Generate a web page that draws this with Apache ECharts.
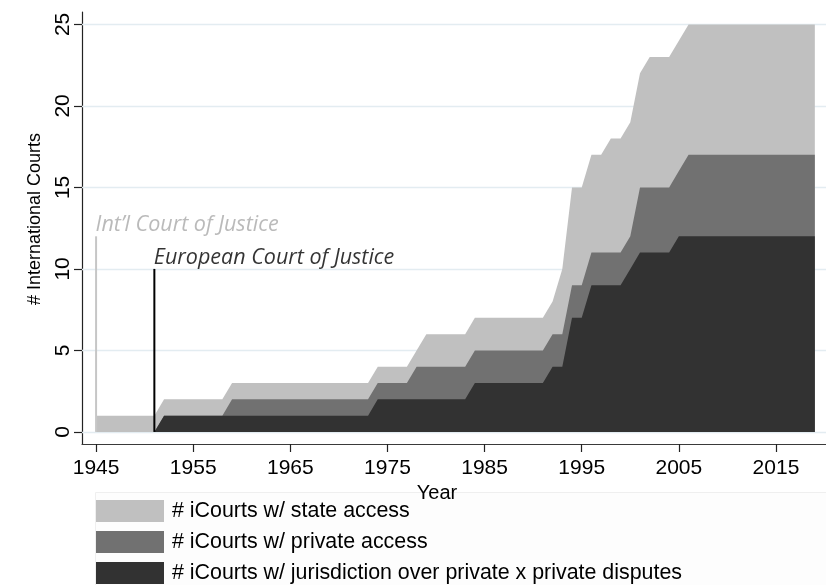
<!DOCTYPE html>
<html><head><meta charset="utf-8">
<script src="https://cdn.jsdelivr.net/npm/echarts@6/dist/echarts.min.js"></script>
<style>html,body{margin:0;padding:0;background:#fff}#c{width:826px;height:585px}</style>
</head><body><div id="c"></div>
<script>
const years = [1945,1946,1947,1948,1949,1950,1951,1952,1953,1954,1955,1956,1957,1958,1959,1960,1961,1962,1963,1964,1965,1966,1967,1968,1969,1970,1971,1972,1973,1974,1975,1976,1977,1978,1979,1980,1981,1982,1983,1984,1985,1986,1987,1988,1989,1990,1991,1992,1993,1994,1995,1996,1997,1998,1999,2000,2001,2002,2003,2004,2005,2006,2007,2008,2009,2010,2011,2012,2013,2014,2015,2016,2017,2018,2019];
const stateAccess = [1,1,1,1,1,1,1, 2,2,2,2,2,2,2, 3,3,3,3,3,3,3,3,3,3,3,3,3,3,3, 4,4,4,4, 5, 6,6,6,6,6, 7,7,7,7,7,7,7,7, 8, 10, 15,15, 17,17, 18,18, 19, 22, 23,23,23, 24, 25,25,25,25,25,25,25,25,25,25,25,25,25,25];
const privateAccess = [null,null,null,null,null,null, 0, 1,1,1,1,1,1,1, 2,2,2,2,2,2,2,2,2,2,2,2,2,2,2, 3,3,3,3, 4,4,4,4,4,4, 5,5,5,5,5,5,5,5, 6,6, 9,9, 11,11,11,11, 12, 15,15,15,15, 16, 17,17,17,17,17,17,17,17,17,17,17,17,17,17];
const privateDisputes = [null,null,null,null,null,null, 0, 1,1,1,1,1,1,1,1,1,1,1,1,1,1,1,1,1,1,1,1,1,1, 2,2,2,2,2,2,2,2,2,2, 3,3,3,3,3,3,3,3, 4,4, 7,7, 9,9,9,9, 10, 11,11,11,11, 12,12,12,12,12,12,12,12,12,12,12,12,12,12,12];
const seriesNames = ['# iCourts w/ state access', '# iCourts w/ private access', '# iCourts w/ jurisdiction over private x private disputes'];
const seriesColors = ['#c0c0c0', '#717171', '#323232'];
const xTicks = [1945,1955,1965,1975,1985,1995,2005,2015];
const yTicks = [0,5,10,15,20,25];
const courtNames = ['Int’l Court of Justice', 'European Court of Justice'];
const courtYears = [1945, 1951];
const courtHeights = [12, 10];
const courtLineColors = ['#c6c6c6', '#000000'];
const courtTextColors = ['#a9a9a9', '#000000'];

const FONT = 'Liberation Sans, Arial, Helvetica, sans-serif';
const chart = echarts.init(document.getElementById('c'), null, {renderer: 'canvas'});

const allValues = [stateAccess, privateAccess, privateDisputes];
const series = allValues.map((vals, k) => ({
  type: 'line', name: seriesNames[k], color: seriesColors[k],
  data: years.map((y, i) => [y, vals[i]]),
  symbol: 'none', showSymbol: false, silent: true,
  lineStyle: {width: 0}, areaStyle: {color: seriesColors[k], opacity: 1},
  z: 2
}));
// gridlines
series.push({
  type: 'line', data: [], silent: true,
  markLine: {
    z: 1, silent: true, symbol: ['none', 'none'], animation: false,
    label: {show: false},
    lineStyle: {color: '#e3ecf1', type: 'solid', width: 1.4},
    data: yTicks.map(v => ({yAxis: v}))
  }
});
// court lines
courtYears.forEach((y, i) => {
  series.push({
    type: 'line', silent: true, symbol: 'none', z: 3,
    data: [[y, 0], [y, courtHeights[i]]],
    lineStyle: {color: courtLineColors[i], width: 2}
  });
});
// court labels
series.push({
  type: 'scatter', silent: true, z: 4, symbolSize: 1,
  itemStyle: {color: 'rgba(0,0,0,0)'},
  data: courtYears.map((y, i) => ({
    value: [y, courtHeights[i]],
    label: {
      show: true, formatter: courtNames[i], position: [0, 0], align: 'left', verticalAlign: 'bottom',
      color: courtTextColors[i], fontFamily: 'Open Sans, sans-serif', fontStyle: 'italic', fontSize: 21.5
    }
  }))
});

chart.setOption({
  animation: false,
  backgroundColor: '#ffffff',
  grid: {left: 82, right: 0, top: 12, bottom: 141, containLabel: false},
  graphic: [{
    type: 'rect', left: 95, top: 492, z: -10, silent: true,
    shape: {width: 731, height: 93},
    style: {fill: '#fdfdfd', stroke: '#efefef', lineWidth: 1}
  }],
  legend: {
    data: seriesNames, orient: 'vertical', left: 96, top: 500, padding: 0,
    itemWidth: 68, itemHeight: 22, itemGap: 9, icon: 'rect', selectedMode: false,
    textStyle: {fontFamily: FONT, fontSize: 21.4, color: '#000', lineHeight: 22, padding: [0, 0, 0, 3]}
  },
  xAxis: {
    type: 'value', min: 1943.55, max: 2020.15,
    axisLine: {show: true, onZero: false, lineStyle: {color: '#3a3a3a', width: 1.2}},
    axisTick: {show: true, length: 8, customValues: xTicks, lineStyle: {color: '#222', width: 1.2}},
    axisLabel: {customValues: xTicks, margin: 14, fontSize: 21, color: '#000', fontFamily: FONT, formatter: v => String(v)},
    splitLine: {show: false},
    name: 'Year', nameLocation: 'middle', nameGap: 37,
    nameTextStyle: {fontFamily: FONT, fontSize: 20, color: '#000', padding: [0, 34, 0, 0]}
  },
  yAxis: {
    type: 'value', min: -0.74, max: 25.76,
    axisLine: {show: true, onZero: false, lineStyle: {color: '#222', width: 1.2}},
    axisTick: {show: true, length: 8, customValues: yTicks, lineStyle: {color: '#222', width: 1.2}},
    axisLabel: {customValues: yTicks, rotate: 90, margin: 8, fontSize: 21, color: '#000', fontFamily: FONT, formatter: v => String(v)},
    splitLine: {show: false},
    name: '# International Courts', nameLocation: 'middle', nameGap: 38,
    nameTextStyle: {fontFamily: FONT, fontSize: 18, color: '#000', padding: [0, 0, 0, 18]}
  },
  series: series
});
</script>
</body></html>
